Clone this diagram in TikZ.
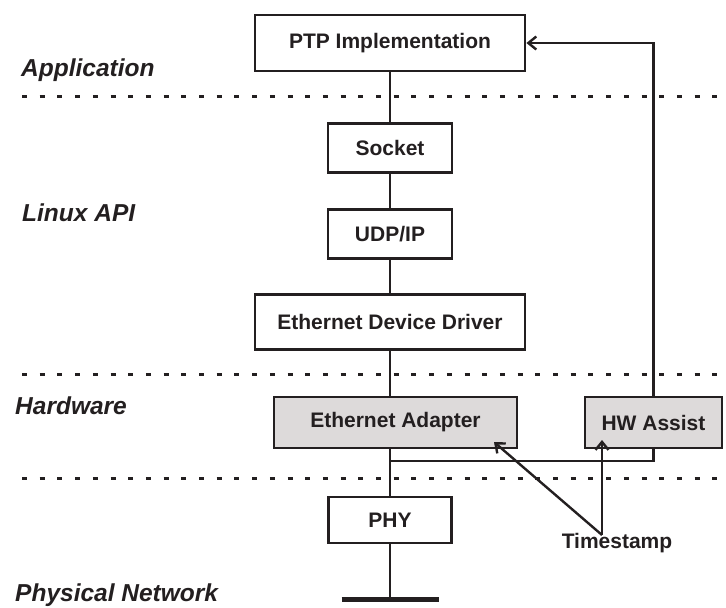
\documentclass[tikz,border=0pt]{standalone}
\usepackage{fontspec}
\setmainfont{Liberation Sans}
\usetikzlibrary{arrows.meta}
\definecolor{hwgray}{RGB}{221,218,218}
\definecolor{ink}{RGB}{35,31,32}
\tikzset{
    layerbox/.style={draw=ink,line width=2.8pt,fill=white,inner sep=0pt,
        text=ink,font=\fontsize{21}{25}\selectfont\bfseries},
    hwbox/.style={layerbox,fill=hwgray},
    layername/.style={anchor=west,inner sep=0pt,text=ink,
        font=\fontsize{24.5}{29}\selectfont\bfseries\itshape},
    divider/.style={draw=ink,line width=3pt,dash pattern=on 5pt off 12.7pt},
    link/.style={draw=ink,line width=2.4pt},
}
\begin{document}
\begin{tikzpicture}[x=1pt,y=-1pt,>={Straight Barb[length=8pt,width=13pt]}]
    \useasboundingbox (0,0) rectangle (726,608);

    % layer dividers
    \draw[divider] (22,96) -- (726,96);
    \draw[divider] (22,374) -- (726,374);
    \draw[divider] (22,478) -- (726,478);

    % layer names
    \node[layername] (app-label) at (21,70) {Application};
    \node[layername] (api-label) at (22,213) {Linux API};
    \node[layername] (hw-label) at (15,406) {Hardware};
    \node[layername] (net-label) at (15,595) {Physical Network};

    % stack
    \node[layerbox,minimum width=270pt,minimum height=56pt]
        (ptp) at (390,43) {PTP Implementation};
    \node[layerbox,minimum width=124pt,minimum height=49pt]
        (socket) at (390,148) {Socket};
    \node[layerbox,minimum width=124pt,minimum height=49pt]
        (udp) at (390,234) {UDP/IP};
    \node[layerbox,minimum width=270pt,minimum height=55pt]
        (driver) at (390,322) {Ethernet Device Driver};
    \node[hwbox,minimum width=243pt,minimum height=51pt]
        (adapter) at (395.5,422.5) {Ethernet Adapter};
    \node[hwbox,minimum width=137pt,minimum height=51pt]
        (hwassist) at (653.5,422.5) {HW Assist};
    \node[layerbox,minimum width=123pt,minimum height=46pt]
        (phy) at (390,520) {PHY};
    \node[inner sep=0pt,text=ink,font=\fontsize{21}{25}\selectfont\bfseries]
        (timestamp) at (617,543) {Timestamp};

    \coordinate (join) at (390,461);
    \coordinate (wire) at (390,599);
    \coordinate (ts) at (602,535);

    \draw[link] (ptp.south -| socket) -- (socket.north);
    \draw[link] (socket) -- (udp);
    \draw[link] (udp) -- (driver);
    \draw[link] (driver.south) -- (driver.south |- adapter.north);
    \draw[link] (join |- adapter.south) -- (phy.north);
    \draw[link] (phy.south) -- (wire);
    \draw[ink,line width=5pt] (wire) ++(-48.5,0) -- ++(97,0);

    \draw[link] (hwassist.south) |- (join);
    \draw[link,->] (hwassist.north) |- (ptp.east);

    \draw[link,->] (ts) -- (494,442);
    \draw[link,->] (ts) -- (602,440);
\end{tikzpicture}
\end{document}
